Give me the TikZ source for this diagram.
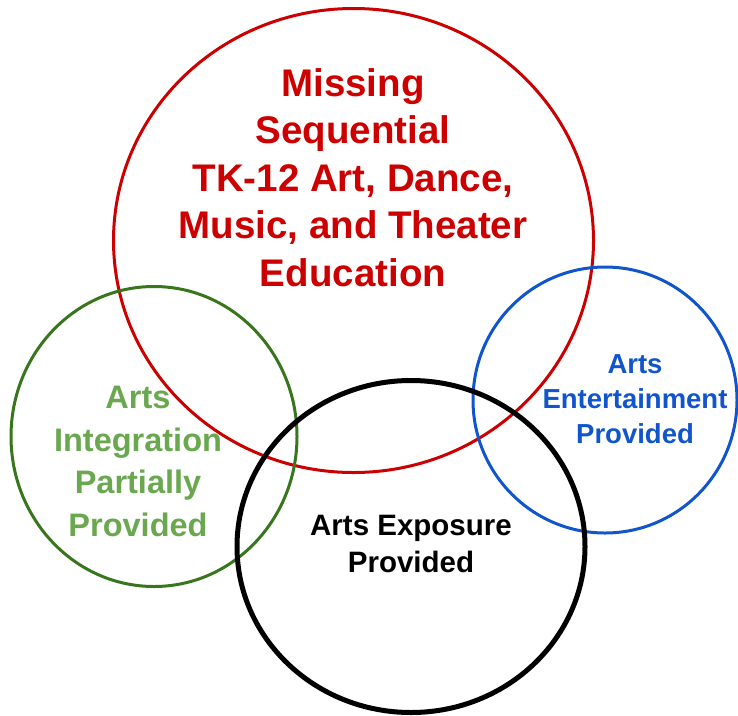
\documentclass[tikz,border=0pt]{standalone}
\usepackage{fontspec}
\newfontfamily\vennfont{Liberation Sans}
\definecolor{vennred}{HTML}{CC0000}
\definecolor{venngreen}{HTML}{38761D}
\definecolor{vennlight}{HTML}{6AA84F}
\definecolor{vennblue}{HTML}{1155CC}
\begin{document}
\begin{tikzpicture}[x=1pt, y=-1pt, line width=3pt]
\useasboundingbox (0,0) rectangle (738,715);

\draw [vennred] (353.5,240.5) ellipse [x radius=240, y radius=232];
\draw [venngreen] (154,436.5) ellipse [x radius=143, y radius=150];
\draw [vennblue] (605,400) ellipse [x radius=132, y radius=133];
\draw [black, line width=5pt] (411,546.5) ellipse [x radius=174, y radius=166];

\node[align=center, text=vennred, font=\vennfont\bfseries\fontsize{38.5}{47.5}\selectfont] (missing) at (353,177.5) {Missing\\Sequential\\TK-12 Art, Dance,\\Music, and Theater\\Education};% red
\node[align=center, text=vennlight, font=\vennfont\bfseries\fontsize{32.5}{42.5}\selectfont] (integration) at (138,461.5) {Arts\\Integration\\Partially\\Provided};% green
\node[align=center, text=vennblue, font=\vennfont\bfseries\fontsize{27.5}{35}\selectfont] (entertainment) at (635,399) {Arts\\Entertainment\\Provided};% blue
\node[align=center, text=black, font=\vennfont\bfseries\fontsize{29.5}{37}\selectfont] (exposure) at (411,544) {Arts Exposure\\Provided};% black
\end{tikzpicture}
\end{document}
